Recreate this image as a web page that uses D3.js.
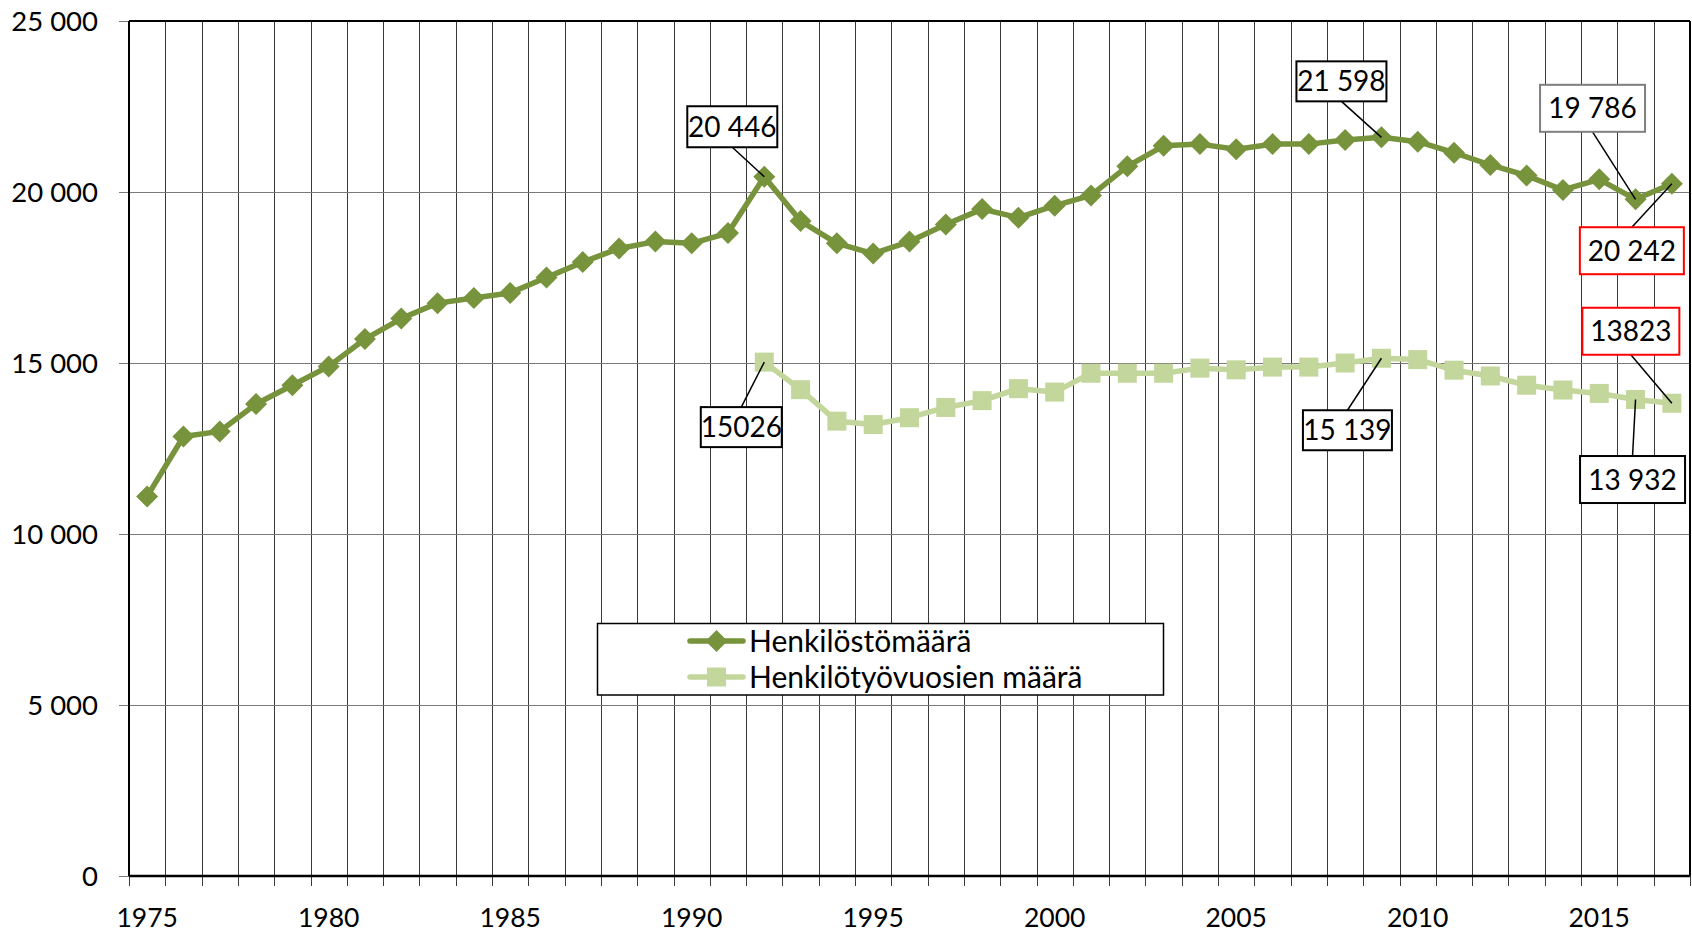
<!DOCTYPE html>
<html>
<head>
<meta charset="utf-8">
<script src="https://cdn.jsdelivr.net/npm/d3@7"></script>
<style>
  body { margin: 0; background: #fff; }
  text { font-family: Lato, 'Open Sans', sans-serif; fill: #000; }
</style>
</head>
<body>
<div id="chart"></div>
<script>
// Years on the category axis
const years = d3.range(1975, 2018);
const yearLabels = [1975, 1980, 1985, 1990, 1995, 2000, 2005, 2010, 2015];
const yTicks = [0, 5000, 10000, 15000, 20000, 25000];

// Henkilöstömäärä (1975-2017)
const henkilosto = [11100, 12850, 13000, 13800, 14350, 14900, 15700, 16300, 16750, 16900,
    17050, 17500, 17950, 18350, 18550, 18500, 18800, 20446, 19150, 18500,
    18200, 18550, 19050, 19500, 19250, 19600, 19900, 20750, 21350, 21400,
    21250, 21400, 21400, 21520, 21598, 21470, 21150, 20790, 20480, 20060,
    20370, 19786, 20242];

// Henkilötyövuosien määrä (1992-2017, nothing before)
const tyovuodet = [null, null, null, null, null, null, null, null, null, null,
    null, null, null, null, null, null, null, 15026, 14220, 13300,
    13200, 13400, 13700, 13900, 14250, 14150, 14700, 14700, 14700, 14850,
    14800, 14880, 14880, 15000, 15139, 15100, 14790, 14620, 14350, 14210,
    14110, 13932, 13823];

const seriesNames = ['Henkilöstömäärä', 'Henkilötyövuosien määrä'];

// Data labels: series index, year, text
const dataLabels = [
    { s: 0, year: 1992, text: '20 446' },
    { s: 1, year: 1992, text: '15026' },
    { s: 0, year: 2009, text: '21 598' },
    { s: 1, year: 2009, text: '15 139' },
    { s: 0, year: 2016, text: '19 786' },
    { s: 0, year: 2017, text: '20 242' },
    { s: 1, year: 2017, text: '13823' },
    { s: 1, year: 2016, text: '13 932' },
];

// Label box placement relative to its point (layout only)
const labelLayout = {
    '20 446': { dx: -32, dy: -50, w: 90, h: 41, stroke: '#000' },
    '15026': { dx: -23, dy: 65, w: 81, h: 40, stroke: '#000' },
    '21 598': { dx: -40, dy: -56, w: 90, h: 40, stroke: '#000' },
    '15 139': { dx: -34, dy: 72, w: 89, h: 40, stroke: '#000' },
    '19 786': { dx: -43, dy: -91, w: 105, h: 47, stroke: '#7f7f7f' },
    '20 242': { dx: -40, dy: 67, w: 104, h: 47, stroke: '#ff0000' },
    '13823': { dx: -41, dy: -72, w: 97, h: 47, stroke: '#ff0000' },
    '13 932': { dx: -3, dy: 80, w: 105, h: 47, stroke: '#000' },
};

const width = 1692, height = 933;
const margin = { top: 21, right: 2, bottom: 57, left: 129 };
const colors = ['#77933C', '#C3D69B'];

const svg = d3.select('#chart').append('svg')
    .attr('width', width)
    .attr('height', height);

const x = d3.scaleBand()
    .domain(years)
    .range([margin.left, width - margin.right])
    .padding(0);

const y = d3.scaleLinear()
    .domain([0, 25000])
    .range([height - margin.bottom, margin.top]);

const fmt = v => d3.format(',')(v).replace(/,/g, ' ');
const plotBottom = y(0), plotTop = y(25000);
const plotLeft = x.range()[0], plotRight = x.range()[1];

// vertical grid lines at category boundaries (+ tick marks below axis)
const bounds = years.map(d => x(d)).concat([plotRight]);
svg.append('g')
    .selectAll('line')
    .data(bounds)
    .enter().append('line')
    .attr('x1', d => Math.round(d) + 0.5)
    .attr('x2', d => Math.round(d) + 0.5)
    .attr('y1', plotTop)
    .attr('y2', plotBottom + 10)
    .attr('stroke', '#3a3a3a')
    .attr('stroke-width', 1);

// horizontal grid lines + y tick marks
svg.append('g')
    .selectAll('line')
    .data(yTicks)
    .enter().append('line')
    .attr('x1', plotLeft - 10)
    .attr('x2', plotRight)
    .attr('y1', d => Math.round(y(d)) + 0.5)
    .attr('y2', d => Math.round(y(d)) + 0.5)
    .attr('stroke', '#7a7a7a')
    .attr('stroke-width', 1);

// plot border / axes
svg.append('line')
    .attr('x1', plotLeft).attr('x2', plotRight)
    .attr('y1', plotTop).attr('y2', plotTop)
    .attr('stroke', '#000').attr('stroke-width', 2);
svg.append('line')
    .attr('x1', plotRight).attr('x2', plotRight)
    .attr('y1', plotTop).attr('y2', plotBottom)
    .attr('stroke', '#000').attr('stroke-width', 2);
svg.append('line')
    .attr('x1', plotLeft).attr('x2', plotLeft)
    .attr('y1', plotTop).attr('y2', plotBottom)
    .attr('stroke', '#000').attr('stroke-width', 2);
svg.append('line')
    .attr('x1', plotLeft).attr('x2', plotRight)
    .attr('y1', plotBottom).attr('y2', plotBottom)
    .attr('stroke', '#000').attr('stroke-width', 2.5);

// y axis labels
svg.append('g')
    .selectAll('text')
    .data(yTicks)
    .enter().append('text')
    .attr('x', 98)
    .attr('y', d => y(d))
    .attr('dy', '0.36em')
    .attr('text-anchor', 'end')
    .attr('font-size', '27.5px')
    .text(d => fmt(d));

// x axis labels
svg.append('g')
    .selectAll('text')
    .data(yearLabels)
    .enter().append('text')
    .attr('x', d => x(d) + x.bandwidth() / 2)
    .attr('y', 927)
    .attr('text-anchor', 'middle')
    .attr('font-size', '26.5px')
    .text(d => d);

const cx = d => x(d) + x.bandwidth() / 2;
const diamond = r => `M0,${-r}L${r},0L0,${r}L${-r},0Z`;
const square = r => `M${-r},${-r}H${r}V${r}H${-r}Z`;
const markers = [diamond(11), square(9.5)];

[henkilosto, tyovuodet].forEach((vals, i) => {
    const pts = years.map((yr, j) => ({ yr, v: vals[j] })).filter(p => p.v != null);
    const line = d3.line()
        .x(p => cx(p.yr))
        .y(p => y(p.v));
    const g = svg.append('g');
    g.append('path')
        .datum(pts)
        .attr('fill', 'none')
        .attr('stroke', colors[i])
        .attr('stroke-width', 5.5)
        .attr('stroke-linejoin', 'round')
        .attr('d', line);
    g.selectAll('path.m')
        .data(pts)
        .enter().append('path')
        .attr('class', 'm')
        .attr('transform', p => `translate(${cx(p.yr)},${y(p.v)})`)
        .attr('d', markers[i])
        .attr('fill', colors[i]);
});

// data labels with leader lines
const seriesVals = [henkilosto, tyovuodet];
dataLabels.forEach(lab => {
    const px = cx(lab.year);
    const py = y(seriesVals[lab.s][years.indexOf(lab.year)]);
    const L = labelLayout[lab.text];
    const bx = px + L.dx, by = py + L.dy;
    const edgeY = L.dy < 0 ? by + L.h / 2 : by - L.h / 2;
    svg.append('line')
        .attr('x1', bx).attr('y1', edgeY)
        .attr('x2', px).attr('y2', py)
        .attr('stroke', '#000').attr('stroke-width', 1.5);
    svg.append('rect')
        .attr('x', bx - L.w / 2).attr('y', by - L.h / 2)
        .attr('width', L.w).attr('height', L.h)
        .attr('fill', '#fff')
        .attr('stroke', L.stroke)
        .attr('stroke-width', 2);
    svg.append('text')
        .attr('x', bx).attr('y', by)
        .attr('dy', '0.36em')
        .attr('text-anchor', 'middle')
        .attr('font-size', '28px')
        .text(lab.text);
});

// legend
const legend = svg.append('g');
legend.append('rect')
    .attr('x', 597.5).attr('y', 623.5)
    .attr('width', 566).attr('height', 71.5)
    .attr('fill', '#fff')
    .attr('stroke', '#000')
    .attr('stroke-width', 1.5);
seriesNames.forEach((name, i) => {
    const ly = 641 + i * 36;
    legend.append('line')
        .attr('x1', 690).attr('x2', 743)
        .attr('y1', ly).attr('y2', ly)
        .attr('stroke', colors[i])
        .attr('stroke-width', 5.5)
        .attr('stroke-linecap', 'round');
    legend.append('path')
        .attr('transform', `translate(716.5,${ly})`)
        .attr('d', markers[i])
        .attr('fill', colors[i]);
    legend.append('text')
        .attr('x', 749).attr('y', ly)
        .attr('dy', '0.36em')
        .attr('font-size', '30px')
        .text(name);
});
</script>
</body>
</html>
